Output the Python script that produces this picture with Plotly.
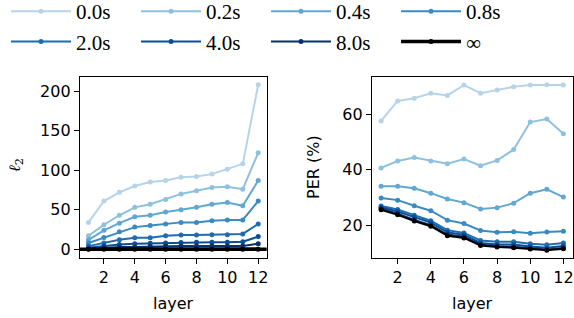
import plotly.graph_objects as go

layers = list(range(1, 13))
labels = ["0.0s", "0.2s", "0.4s", "0.8s", "2.0s", "4.0s", "8.0s", "∞"]
colors = ["#b6d4e9", "#8dc1dd", "#60a7d2", "#3b8bc3", "#1e6db2", "#084f99", "#08306b", "#000000"]

l2_values = [
    [34, 61, 72, 80, 85, 87, 91, 92, 95, 101, 108, 208],
    [17, 31, 43, 53, 57, 63, 70, 74, 78, 79, 76, 122],
    [12, 24, 33, 41, 43, 47, 50, 53, 57, 59, 55, 87],
    [8, 15, 22, 28, 30, 32, 34, 34, 36, 37, 37, 61],
    [4, 8, 12, 14.5, 14.7, 17, 18, 18, 18.5, 18.5, 19.4, 32],
    [2, 4, 6, 7, 7.5, 8, 8.5, 9, 9, 9, 9.5, 16],
    [0.5, 2, 3, 3, 3.5, 4, 4, 4, 4, 4, 4, 7],
    [0, 0, 0, 0, 0, 0, 0, 0, 0, 0, 0, 0],
]

per_values = [
    [57.6, 64.8, 65.8, 67.6, 66.8, 70.5, 67.6, 68.7, 69.9, 70.5, 70.6, 70.5],
    [40.7, 43.2, 44.4, 43.2, 42.2, 43.9, 41.5, 43.4, 47.3, 57.2, 58.3, 53.0],
    [34.1, 34.1, 33.4, 31.6, 29.5, 28.2, 25.9, 26.4, 28.0, 31.6, 33.0, 30.2],
    [29.9, 29.1, 27.1, 25.3, 21.9, 20.7, 18.2, 17.5, 17.7, 17.2, 17.6, 17.9],
    [27.0, 25.7, 23.7, 21.7, 18.3, 17.3, 14.6, 14.1, 14.1, 13.4, 13.0, 13.7],
    [26.5, 25.0, 23.0, 21.0, 17.5, 16.6, 13.7, 13.1, 13.1, 12.4, 12.0, 12.6],
    [26.0, 24.2, 22.0, 20.1, 16.7, 15.9, 13.1, 12.5, 12.3, 11.7, 11.3, 11.9],
    [25.6, 23.8, 21.6, 19.7, 16.3, 15.5, 12.8, 12.2, 12.0, 11.5, 11.1, 11.6],
]

x_ticks = [2, 4, 6, 8, 10, 12]
l2_ticks = [0, 50, 100, 150, 200]
per_ticks = [20, 40, 60]

W, H = 574, 318


def fx(x):
    return x / W


def fy(y):
    return 1 - y / H


fig = go.Figure()

for i, (lab, col) in enumerate(zip(labels, colors)):
    lw = 3.5 if lab == "∞" else 2
    fig.add_trace(go.Scatter(
        x=layers, y=l2_values[i], mode="lines+markers", name=lab,
        line=dict(color=col, width=lw), marker=dict(color=col, size=5),
        xaxis="x", yaxis="y", legendgroup=lab, showlegend=True))
for i, (lab, col) in enumerate(zip(labels, colors)):
    fig.add_trace(go.Scatter(
        x=layers, y=per_values[i], mode="lines+markers", name=lab,
        line=dict(color=col, width=2), marker=dict(color=col, size=5),
        xaxis="x2", yaxis="y2", legendgroup=lab, showlegend=False))

# reference line at zero on left panel
fig.add_shape(type="line", xref="x domain", yref="y", x0=0, x1=1, y0=0, y1=0,
              line=dict(color="black", width=3.5), layer="above")

y_dom = [fy(257.5), fy(76.5)]
tickfont = dict(family="DejaVu Sans", size=16, color="black")
axis_common = dict(showline=True, linecolor="black", linewidth=1.3, mirror=True,
                   ticks="outside", ticklen=5, tickwidth=1.2, tickcolor="black",
                   showgrid=False, zeroline=False, tickfont=tickfont, automargin=False)

fig.update_layout(
    width=W, height=H,
    margin=dict(l=0, r=0, t=0, b=0, autoexpand=False),
    plot_bgcolor="white", paper_bgcolor="white",
    xaxis=dict(domain=[fx(80), fx(266.7)], range=[0.45, 12.55], tickvals=x_ticks, anchor="y", **axis_common),
    yaxis=dict(domain=y_dom, range=[-10.4, 218.4], tickvals=l2_ticks, anchor="x", **axis_common),
    xaxis2=dict(domain=[fx(372), fx(572.5)], range=[0.45, 12.55], tickvals=x_ticks, anchor="y2", **axis_common),
    yaxis2=dict(domain=y_dom, range=[8.45, 73.6], tickvals=per_ticks, anchor="x2", **axis_common),
    legend=dict(orientation="h", x=fx(6), y=1 + 9 / H, xanchor="left", yanchor="top",
                entrywidth=55, entrywidthmode="pixels", itemwidth=60,
                font=dict(family="Liberation Serif", size=21, color="black"),
                bgcolor="rgba(0,0,0,0)", tracegroupgap=0),
    showlegend=True,
)

lab_font = dict(family="DejaVu Sans", size=16, color="black")
fig.add_annotation(text="layer", x=fx((80 + 266.7) / 2), y=fy(303), xref="paper", yref="paper",
                   showarrow=False, font=lab_font, xanchor="center", yanchor="middle")
fig.add_annotation(text="layer", x=fx((372 + 572.5) / 2), y=fy(303), xref="paper", yref="paper",
                   showarrow=False, font=lab_font, xanchor="center", yanchor="middle")
fig.add_annotation(text="<i>ℓ</i><sub>2</sub>", x=fx(15), y=fy(165), xref="paper", yref="paper",
                   showarrow=False, font=dict(family="DejaVu Serif", size=16, color="black"),
                   textangle=-90, xanchor="center", yanchor="middle")
fig.add_annotation(text="PER (%)", x=fx(313), y=fy(167), xref="paper", yref="paper",
                   showarrow=False, font=lab_font, textangle=-90, xanchor="center", yanchor="middle")

fig.write_html(
    "out.html",
    config={"displayModeBar": False},
    post_script="document.body.style.margin='0';document.body.style.overflow='hidden';",
)
